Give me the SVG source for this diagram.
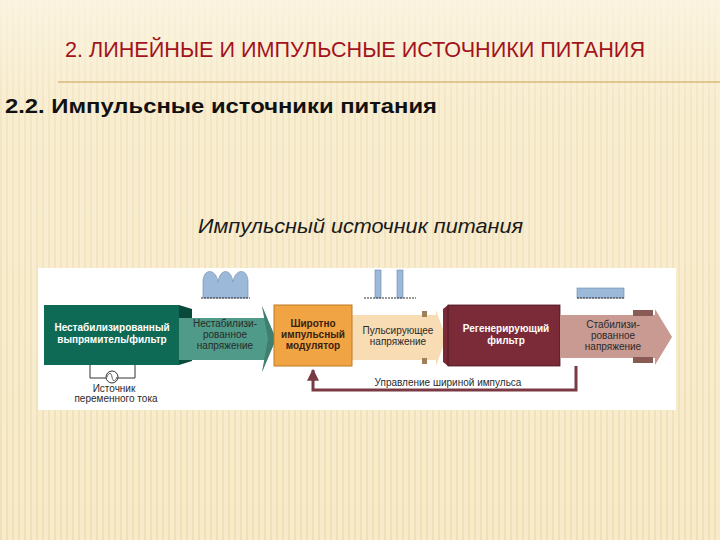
<svg xmlns="http://www.w3.org/2000/svg" width="720" height="540" viewBox="0 0 720 540">
<defs>
<pattern id="stripes" width="6" height="10" patternUnits="userSpaceOnUse">
<rect width="6" height="10" fill="#f7ebcb"/>
<rect x="0" width="2" height="10" fill="#f1e0b4"/>
</pattern>
<linearGradient id="fade" x1="0" y1="0" x2="0" y2="1">
<stop offset="0" stop-color="#fbf4e2" stop-opacity="0.9"/>
<stop offset="0.2" stop-color="#fbf4e2" stop-opacity="0.3"/>
<stop offset="1" stop-color="#fbf4e2" stop-opacity="0"/>
</linearGradient>
<marker id="ah" viewBox="0 0 10 10" refX="9" refY="5" markerWidth="4" markerHeight="4" orient="auto">
<path d="M0,0 L10,5 L0,10 z" fill="#7a3a44"/>
</marker>
<style>
.t{font-family:"Liberation Sans",Arial,sans-serif}
.wb{font-family:"Liberation Sans",Arial,sans-serif;font-size:10px;font-weight:bold;fill:#ffffff;text-anchor:middle}
.db{font-family:"Liberation Sans",Arial,sans-serif;font-size:10px;font-weight:bold;fill:#3a2010;text-anchor:middle}
.dn{font-family:"Liberation Sans",Arial,sans-serif;font-size:10px;fill:#2a2a2a;text-anchor:middle}
.wave{fill:#9db9da;stroke:#6a86a8;stroke-width:0.6}
.base{stroke:#333;stroke-width:1;stroke-dasharray:2,1;fill:none}
</style>
</defs>
<rect width="720" height="540" fill="url(#stripes)"/>
<rect width="720" height="540" fill="url(#fade)"/>
<text class="t" x="355" y="57" font-size="22" fill="#a3131c" text-anchor="middle" textLength="580" lengthAdjust="spacingAndGlyphs">2. ЛИНЕЙНЫЕ И ИМПУЛЬСНЫЕ ИСТОЧНИКИ ПИТАНИЯ</text>
<line x1="58" y1="82" x2="720" y2="82" stroke="#d8b877" stroke-width="1.5"/>
<text class="t" x="5" y="113" font-size="21" font-weight="bold" fill="#111" textLength="432" lengthAdjust="spacingAndGlyphs">2.2. Импульсные источники питания</text>
<text class="t" x="198" y="233" font-size="21" font-style="italic" fill="#1a1a1a" textLength="325" lengthAdjust="spacingAndGlyphs">Импульсный источник питания</text>

<rect x="38" y="268" width="638" height="142" fill="#ffffff"/>

<g id="waveforms">
<path class="wave" d="M203,298 L203,282 C203,268 216,268 218,282 C220,268 231,268 233,282 C235,268 248,268 248,282 L248,298 z"/>
<line class="base" x1="201" y1="298" x2="250" y2="298"/>
<rect class="wave" x="375" y="270" width="6" height="28"/>
<rect class="wave" x="397" y="270" width="6" height="28"/>
<line class="base" x1="364" y1="298" x2="416" y2="298"/>
<rect class="wave" x="577" y="288" width="47" height="10"/>
<line class="base" x1="577" y1="298" x2="624" y2="298"/>
</g>

<g id="connectors">
<polyline points="576,366 576,390 313,390 313,370" fill="none" stroke="#7a3a44" stroke-width="3" marker-end="url(#ah)"/>
<text class="dn" x="448" y="386" font-size="10.5">Управление шириной импульса</text>
<polyline points="90,365 90,378 135,378 135,365" fill="none" stroke="#333" stroke-width="1"/>
</g>

<g id="source">
<circle cx="112" cy="377" r="6" fill="#fff" stroke="#333" stroke-width="1"/>
<path d="M107,377 C109,372 111,372 112,377 C113,382 115,382 117,377" fill="none" stroke="#333" stroke-width="0.8"/>
<text class="dn" x="114" y="392" font-size="8.5">Источник</text>
<text class="dn" x="116" y="402" font-size="7.5">переменного тока</text>
</g>

<g id="arrow1">
<polygon points="179,305 192,309 192,361 179,365" fill="#0a4a3a"/>
<polygon points="179,318 265,318 262,306 276,339 262,372 265,360 179,360" fill="#4f9a88"/>
<polygon points="262,306 276,339 262,372 268,339" fill="#3f7f72"/>
<text class="dn" x="225" y="327">Нестабилизи-</text>
<text class="dn" x="225" y="338">рованное</text>
<text class="dn" x="225" y="349">напряжение</text>
</g>

<g id="rectifier">
<rect x="44" y="305" width="135" height="60" fill="#0f6a55"/>
<text class="wb" x="112" y="331">Нестабилизированный</text>
<text class="wb" x="112" y="343">выпрямитель/фильтр</text>
</g>

<g id="arrow2">
<polygon points="352,315 436,315 436,310 446,338 436,366 436,360 352,360" fill="#f7dcb4"/>
<rect x="422" y="311" width="5" height="6" fill="#a08058"/>
<rect x="422" y="358" width="5" height="6" fill="#a08058"/>
<text class="dn" x="398" y="334">Пульсирующее</text>
<text class="dn" x="398" y="345">напряжение</text>
</g>

<g id="pwm">
<rect x="274" y="305" width="78" height="61" fill="#f0a444" stroke="#c07a20" stroke-width="1"/>
<text class="db" x="313" y="327">Широтно</text>
<text class="db" x="313" y="338">импульсный</text>
<text class="db" x="313" y="349">модулятор</text>
</g>

<g id="filter">
<polygon points="443,309 448,305 560,305 560,366 448,366 443,362" fill="#7a2a36"/>
<rect x="448" y="305" width="112" height="61" fill="#7b2b37" stroke="#4a1520" stroke-width="0.8"/>
<text class="wb" x="506" y="332">Регенерирующий</text>
<text class="wb" x="506" y="344">фильтр</text>
</g>

<g id="arrow3">
<polygon points="560,315 655,315 655,309 672,337 655,365 655,358 560,358" fill="#c99a92"/>
<rect x="633" y="310" width="20" height="6" fill="#8a5a55"/>
<rect x="633" y="357" width="20" height="6" fill="#8a5a55"/>
<text class="dn" x="613" y="328">Стабилизи-</text>
<text class="dn" x="613" y="339">рованное</text>
<text class="dn" x="613" y="350">напряжение</text>
</g>
</svg>
